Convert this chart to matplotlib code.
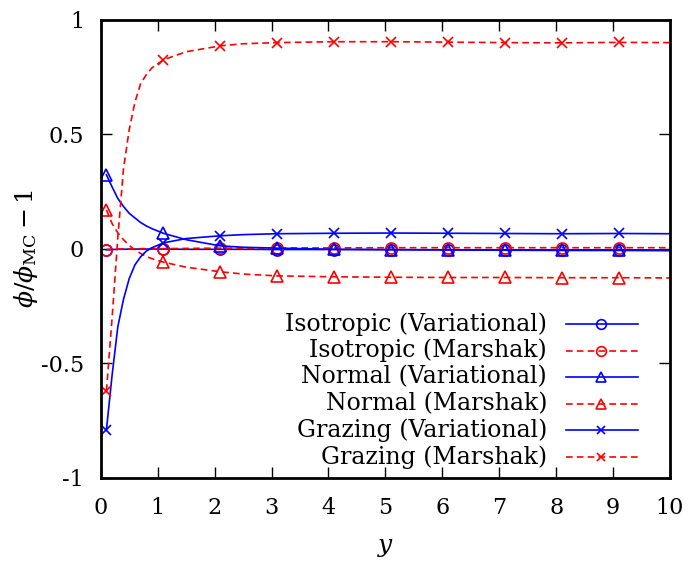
import matplotlib
matplotlib.use("Agg")
import matplotlib.pyplot as plt
from matplotlib.lines import Line2D

# sampled curves (y positions) and their markers at y = 0.1, 1.1, ..., 9.1
ys = [0.1, 0.2, 0.3, 0.4, 0.5, 0.6, 0.7, 0.8, 0.9, 1.1, 1.5, 2.1, 2.5,
      3.1, 4.1, 5.1, 6.1, 7.1, 8.1, 9.1, 10.0]
marker_ys = [0.1, 1.1, 2.1, 3.1, 4.1, 5.1, 6.1, 7.1, 8.1, 9.1]

iso_var = [-0.004, -0.003, -0.002, -0.002, -0.001, -0.001, -0.001, -0.001, -0.001,
           -0.001, -0.002, -0.002, -0.002, -0.003, -0.003, -0.003, -0.004, -0.004,
           -0.004, -0.004, -0.005]
iso_marshak = [-0.003, -0.002, -0.001, 0.0, 0.0, 0.0, 0.001, 0.001, 0.001,
               0.001, 0.002, 0.003, 0.003, 0.004, 0.004, 0.005, 0.005, 0.005,
               0.005, 0.005, 0.005]
normal_var = [0.323, 0.27, 0.22, 0.185, 0.155, 0.135, 0.115, 0.10, 0.088,
              0.068, 0.04, 0.013, 0.007, 0.003, -0.002, -0.004, -0.005, -0.006,
              -0.007, -0.007, -0.008]
normal_marshak = [0.17, 0.11, 0.07, 0.04, 0.015, -0.005, -0.02, -0.033, -0.043,
                  -0.058, -0.08, -0.10, -0.11, -0.118, -0.122, -0.124, -0.125,
                  -0.125, -0.126, -0.126, -0.127]
grazing_var = [-0.79, -0.55, -0.34, -0.22, -0.13, -0.07, -0.035, -0.01, 0.005,
               0.026, 0.045, 0.057, 0.062, 0.066, 0.068, 0.069, 0.068, 0.067,
               0.066, 0.067, 0.066]
grazing_marshak = [-0.62, -0.30, 0.05, 0.35, 0.52, 0.64, 0.72, 0.76, 0.79,
                   0.825, 0.86, 0.886, 0.895, 0.900, 0.904, 0.904, 0.902, 0.900,
                   0.899, 0.901, 0.900]

labels = ["Isotropic (Variational)", "Isotropic (Marshak)", "Normal (Variational)",
          "Normal (Marshak)", "Grazing (Variational)", "Grazing (Marshak)"]
x_ticks = [0, 1, 2, 3, 4, 5, 6, 7, 8, 9, 10]
y_ticks = [-1, -0.5, 0, 0.5, 1]
y_ticklabels = ["-1", "-0.5", "0", "0.5", "1"]

plt.rcParams["font.family"] = ["DejaVu Serif"]
plt.rcParams["mathtext.fontset"] = "dejavuserif"

fig = plt.figure(figsize=(6.9, 5.63), dpi=100)
ax = fig.add_axes([0.146, 0.151, 0.825, 0.814])

series = [iso_var, iso_marshak, normal_var, normal_marshak, grazing_var, grazing_marshak]
styles = [("#0000ff", "-", "o"), ("#ff0000", "--", "o"),
          ("#0000ff", "-", "^"), ("#ff0000", "--", "^"),
          ("#0000ff", "-", "x"), ("#ff0000", "--", "x")]
mark_idx = [ys.index(m) for m in marker_ys]


def dash(ls):
    return (4, 2.5) if ls == "--" else (None, None)


for vals, (c, ls, mk) in zip(series, styles):
    ax.plot(ys, vals, color=c, linestyle=ls, linewidth=1.2, dashes=dash(ls),
            marker=mk, markevery=mark_idx, markersize=8 if mk != "x" else 7,
            markerfacecolor="none", markeredgecolor=c, markeredgewidth=1.2)

# legend drawn by hand: right-aligned text with sample line to the right
for i, ((c, ls, mk), lab) in enumerate(zip(styles, labels)):
    yy = 0.336 - i * 0.058
    ax.text(0.784, yy, lab, transform=ax.transAxes, ha="right", va="center", fontsize=17)
    ax.add_line(Line2D([0.818, 0.944], [yy, yy], transform=ax.transAxes, color=c,
                       linestyle=ls, linewidth=1.2, dashes=dash(ls)))
    ax.add_line(Line2D([0.879], [yy], transform=ax.transAxes, color=c, marker=mk,
                       markersize=7 if mk != "x" else 6, markerfacecolor="none",
                       markeredgecolor=c, markeredgewidth=1.2, linestyle="none"))

ax.set_xlim(0, 10)
ax.set_ylim(-1, 1)
ax.set_xticks(x_ticks)
ax.set_yticks(y_ticks)
ax.set_yticklabels(y_ticklabels)
ax.tick_params(direction="in", length=8, width=1, top=True, right=True, labelsize=16)
ax.tick_params(axis="x", pad=14)
ax.tick_params(axis="y", pad=12)
for s in ax.spines.values():
    s.set_linewidth(2)
ax.set_xlabel(r"$y$", fontsize=18, labelpad=12)
ax.set_ylabel(r"$\phi/\phi_{\mathrm{MC}}-1$", fontsize=18, labelpad=1)

fig.savefig("out.png", dpi=100)
